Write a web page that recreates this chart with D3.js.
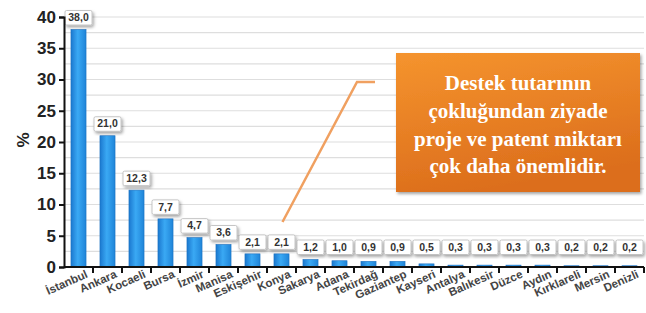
<!DOCTYPE html>
<html>
<head>
<meta charset="utf-8">
<script src="https://cdn.jsdelivr.net/npm/d3@7"></script>
<style>
  body { margin: 0; background: #fff; }
  svg { display: block; }
</style>
</head>
<body>
<div id="chart"></div>
<script>
// city shares (%)
var cities = ["İstanbul", "Ankara", "Kocaeli", "Bursa", "İzmir", "Manisa", "Eskişehir", "Konya",
  "Sakarya", "Adana", "Tekirdağ", "Gaziantep", "Kayseri", "Antalya", "Balıkesir", "Düzce",
  "Aydın", "Kırklareli", "Mersin", "Denizli"];
var shares = [38.0, 21.0, 12.3, 7.7, 4.7, 3.6, 2.1, 2.1, 1.2, 1.0, 0.9, 0.9, 0.5, 0.3, 0.3, 0.3, 0.3, 0.2, 0.2, 0.2];
var yTicks = [0, 5, 10, 15, 20, 25, 30, 35, 40];
var calloutLines = ["Destek tutarının", "çokluğundan ziyade", "proje ve patent miktarı", "çok daha önemlidir."];

var width = 646, height = 313;
var margin = { top: 17, right: 2, bottom: 46, left: 64 };

var svg = d3.select("#chart").append("svg")
  .attr("width", width)
  .attr("height", height);

var defs = svg.append("defs");
var barGrad = defs.append("linearGradient").attr("id", "barGrad")
  .attr("x1", "0%").attr("x2", "100%").attr("y1", "0%").attr("y2", "0%");
barGrad.append("stop").attr("offset", "0%").attr("stop-color", "#1b78cf");
barGrad.append("stop").attr("offset", "45%").attr("stop-color", "#3aa9f4");
barGrad.append("stop").attr("offset", "100%").attr("stop-color", "#1f84d8");

var boxGrad = defs.append("linearGradient").attr("id", "boxGrad")
  .attr("x1", "0%").attr("x2", "30%").attr("y1", "0%").attr("y2", "100%");
boxGrad.append("stop").attr("offset", "0%").attr("stop-color", "#f5942e");
boxGrad.append("stop").attr("offset", "100%").attr("stop-color", "#dc6e1c");

var shadow = defs.append("filter").attr("id", "shadow")
  .attr("x", "-20%").attr("y", "-20%").attr("width", "140%").attr("height", "150%");
shadow.append("feDropShadow").attr("dx", 1.5).attr("dy", 2).attr("stdDeviation", 1.5)
  .attr("flood-color", "#000").attr("flood-opacity", 0.35);

var x = d3.scaleBand()
  .domain(cities)
  .range([margin.left, width - margin.right])
  .paddingInner(0.48)
  .paddingOuter(0.24);

var y = d3.scaleLinear()
  .domain([0, 40])
  .range([height - margin.bottom, margin.top]);

// grid every 2.5
var gridVals = d3.range(2.5, 40.01, 2.5);
svg.append("g").selectAll("line").data(gridVals).enter().append("line")
  .attr("x1", margin.left).attr("x2", width - margin.right)
  .attr("y1", function(d) { return y(d); }).attr("y2", function(d) { return y(d); })
  .attr("stroke", "#dedede").attr("stroke-width", 1.2);

// bars
svg.append("g").selectAll("rect").data(shares).enter().append("rect")
  .attr("x", function(d, i) { return x(cities[i]); })
  .attr("y", function(d) { return y(d); })
  .attr("width", x.bandwidth())
  .attr("height", function(d) { return y(0) - y(d); })
  .attr("fill", "url(#barGrad)")
  .attr("stroke", "#1a6fc0")
  .attr("stroke-width", 0.6);

// value labels
var lab = svg.append("g").selectAll("g").data(shares).enter().append("g")
  .attr("transform", function(d, i) {
    var cx = x(cities[i]) + x.bandwidth() / 2;
    var bottom = Math.min(y(d) - 4, y(0) - 12);
    return "translate(" + cx + "," + bottom + ")";
  });
lab.append("rect")
  .attr("x", -13.5).attr("y", -15).attr("width", 27).attr("height", 14.5).attr("rx", 1.5)
  .attr("fill", "#fff").attr("stroke", "#b8b8b8").attr("stroke-width", 0.8)
  .attr("filter", "url(#shadow)");
lab.append("text")
  .attr("y", -4.3)
  .attr("text-anchor", "middle")
  .attr("font-family", "Arial, 'Liberation Sans', sans-serif")
  .attr("font-weight", "bold")
  .attr("font-size", 10.5)
  .attr("fill", "#333")
  .text(function(d) { return d3.format(".1f")(d).replace(".", ","); });

// y axis
var yAxis = svg.append("g")
  .attr("transform", "translate(" + margin.left + ",0)")
  .call(d3.axisLeft(y).tickValues(yTicks).tickSize(5).tickPadding(3));
yAxis.select(".domain").attr("stroke", "#111").attr("stroke-width", 2);
yAxis.selectAll(".tick line").attr("stroke", "#111").attr("stroke-width", 2);
yAxis.selectAll(".tick text")
  .attr("font-family", "Arial, 'Liberation Sans', sans-serif")
  .attr("font-weight", "bold")
  .attr("font-size", 17)
  .attr("fill", "#222");

// x axis, ticks between categories
var xAxis = svg.append("g")
  .attr("transform", "translate(0," + y(0) + ")");
xAxis.append("line")
  .attr("x1", margin.left).attr("x2", width - margin.right)
  .attr("stroke", "#111").attr("stroke-width", 2);
var step = x.step();
var bounds = d3.range(1, cities.length + 1).map(function(i) { return margin.left + i * step; });
xAxis.selectAll(".xt").data(bounds).enter().append("line")
  .attr("class", "xt")
  .attr("x1", function(d) { return d; }).attr("x2", function(d) { return d; })
  .attr("y1", 0).attr("y2", 6)
  .attr("stroke", "#111").attr("stroke-width", 2);
xAxis.selectAll("text").data(cities).enter().append("text")
  .attr("transform", function(d) {
    return "translate(" + (x(d) + x.bandwidth() / 2 + 10) + ",10) rotate(-24)";
  })
  .attr("text-anchor", "end")
  .attr("font-family", "Arial, 'Liberation Sans', sans-serif")
  .attr("font-weight", "bold")
  .attr("font-size", 11.5)
  .attr("fill", "#444")
  .text(function(d) { return d; });

// y title
svg.append("text")
  .attr("transform", "translate(29,140) rotate(-90)")
  .attr("text-anchor", "middle")
  .attr("font-family", "Arial, 'Liberation Sans', sans-serif")
  .attr("font-weight", "bold")
  .attr("font-size", 17)
  .attr("fill", "#222")
  .text("%");

// callout pointer
svg.append("polyline")
  .attr("points", [[x("Konya") + x.bandwidth() / 2 + 1, 222], [357, 82], [375, 82]].join(" "))
  .attr("fill", "none")
  .attr("stroke", "#f0a060")
  .attr("stroke-width", 2.5);

// callout box
var box = svg.append("g").attr("transform", "translate(396,53)");
box.append("rect")
  .attr("width", 244).attr("height", 139)
  .attr("fill", "url(#boxGrad)")
  .attr("filter", "url(#shadow)");
box.append("g").selectAll("text").data(calloutLines).enter().append("text")
  .attr("x", 122)
  .attr("y", function(d, i) { return 37 + i * 27.8; })
  .attr("text-anchor", "middle")
  .attr("font-family", "'Liberation Serif', 'DejaVu Serif', serif")
  .attr("font-weight", "bold")
  .attr("font-size", 21)
  .attr("fill", "#fff")
  .text(function(d) { return d; });
</script>
</body>
</html>
